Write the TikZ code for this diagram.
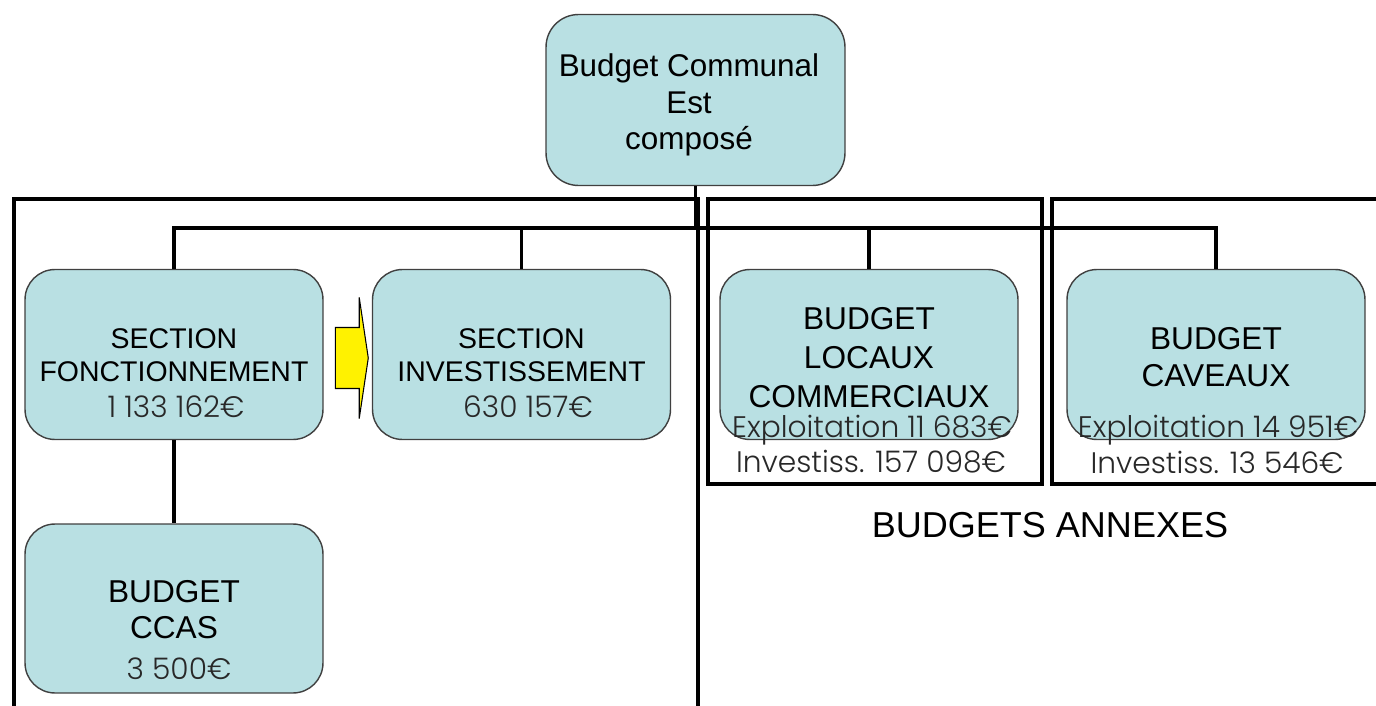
\documentclass[tikz,border=0pt]{standalone}
\usepackage{fontspec}
\setmainfont{Liberation Sans}
\newfontfamily\chiffres{Poppins Light}
\usetikzlibrary{shapes.arrows}
\definecolor{bleubloc}{RGB}{185,224,227}
\definecolor{grisbord}{RGB}{64,64,64}
\definecolor{grischiffre}{RGB}{40,40,40}
\tikzset{
  bloc/.style={draw=grisbord, fill=bleubloc, line width=0.8pt, rounded corners=0.6cm,
    minimum width=5.96cm, minimum height=3.4cm, inner sep=0pt},
  cadre/.style={line width=2.8pt, black},
  lien/.style={line width=2.2pt, black},
  titre/.style={anchor=north, inner sep=0pt, align=center, font=\fontsize{18}{21}\selectfont},
  montant/.style={anchor=base, inner sep=0pt, text=grischiffre, font=\chiffres\fontsize{16.9}{20}\selectfont},
  fleche/.style={single arrow, draw=black, fill=yellow, line width=0.6pt,
    minimum height=0.66cm, minimum width=2.4cm, inner xsep=0pt, inner ysep=0.6cm,
    single arrow head extend=0.6cm, single arrow tip angle=163}
}

\begin{document}
\begin{tikzpicture}[x=0.02cm, y=-0.02cm]
  \useasboundingbox (0,0) rectangle (1376,706);
  \clip (0,0) rectangle (1376,706);

  % cadres
  \draw[cadre] (14,199) rectangle (698,740);
  \draw[cadre] (708,199) rectangle (1042,484);
  \draw[cadre] (1052,199) rectangle (1420,484);

  % blocs
  \node[bloc, minimum width=5.98cm, minimum height=3.42cm, rounded corners=0.65cm] (budget) at (695.5,100) {};
  \node[bloc] (fonc) at (174,354.5) {};
  \node[bloc] (invest) at (521.5,354.5) {};
  \node[bloc] (locaux) at (869,354.5) {};
  \node[bloc] (caveaux) at (1216,354.5) {};
  \node[bloc, minimum height=3.38cm] (ccas) at (174,608.5) {};

  % liens
  \coordinate (bus) at (697,228);
  \draw[lien] (budget.south) -- (budget.south |- bus);
  \draw[lien] (fonc.north) |- (caveaux.north |- bus) -- (caveaux.north);
  \draw[lien] (invest.north) -- (invest.north |- bus);
  \draw[lien] (locaux.north) -- (locaux.north |- bus);
  \draw[lien] (fonc.south) -- (ccas.north);

  \node[fleche] (passage) at (349.5,358) {};

  % textes
  \node[titre, font=\fontsize{17.9}{21}\selectfont] (t-budget) at (689,53) {Budget Communal\\Est\\composé};
  \node[titre, font=\fontsize{16.2}{18.7}\selectfont] (t-fonc) at (174,328) {SECTION\\FONCTIONNEMENT};
  \node[titre, font=\fontsize{16.2}{18.7}\selectfont] (t-invest) at (521.5,328) {SECTION\\INVESTISSEMENT};
  \node[titre, font=\fontsize{18}{22.1}\selectfont] (t-locaux) at (869,307) {BUDGET\\LOCAUX\\COMMERCIAUX};
  \node[titre] (t-caveaux) at (1216,327) {BUDGET\\CAVEAUX};
  \node[titre, font=\fontsize{18}{20.4}\selectfont] (t-ccas) at (174,580) {BUDGET\\CCAS};

  \node[montant] (m-fonc) at (176,417) {1 133 162€};
  \node[montant] (m-invest) at (528,417) {630 157€};
  \node[montant] (m-loc-exp) at (872,437) {Exploitation 11 683€};
  \node[montant] (m-loc-inv) at (871,472) {Investiss. 157 098€};
  \node[montant] (m-cav-exp) at (1218,437) {Exploitation 14 951€};
  \node[montant] (m-cav-inv) at (1217,473) {Investiss. 13 546€};
  \node[montant] (m-ccas) at (179,679) {3 500€};

  \node[anchor=base, inner sep=0pt, font=\fontsize{20.5}{24}\selectfont] (annexes) at (1050,537) {BUDGETS ANNEXES};
\end{tikzpicture}
\end{document}
